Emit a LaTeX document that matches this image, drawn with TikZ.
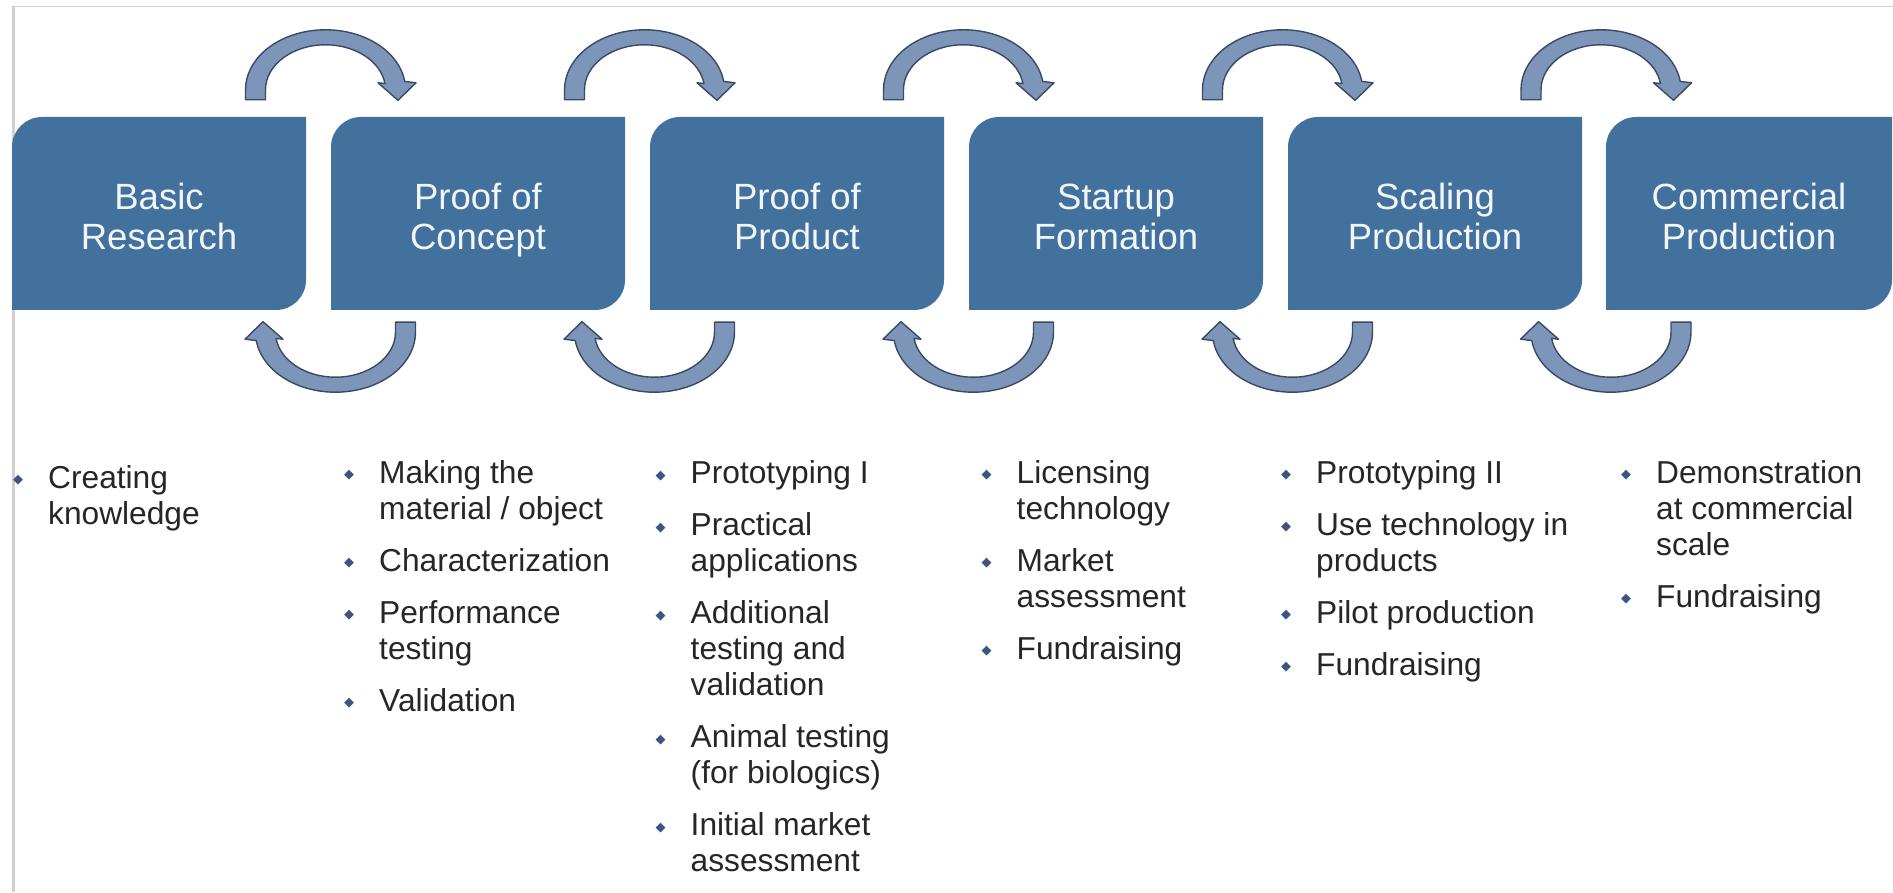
\documentclass[tikz,border=0pt]{standalone}
\usepackage{fontspec}
\setmainfont{Liberation Sans}
\newfontfamily\symbolfont{DejaVu Sans}
\usetikzlibrary{calc}

\definecolor{stagefill}{RGB}{66,113,158}
\definecolor{stagetext}{RGB}{242,245,249}
\definecolor{loopfill}{RGB}{124,149,184}
\definecolor{loopedge}{RGB}{58,74,100}
\definecolor{bodytext}{RGB}{38,38,38}
\definecolor{bulletblue}{RGB}{62,84,130}
\definecolor{framegray}{RGB}{208,208,208}

% diamond bullet hung to the left of each item
\newcommand\itemmark{\llap{\textcolor{bulletblue}{\fontsize{13}{13}\selectfont\raisebox{4.2pt}{\symbolfont ◆}}\hspace{25pt}}}
% fixes the height of the first line of every list
\newcommand\firstline{\rule{0pt}{26pt}}
% fixes the height of the first and the depth of the last line of a stage title
\newcommand\titletop{\rule{0pt}{42pt}}
\newcommand\titlebottom{\rule[-9pt]{0pt}{9pt}}

\begin{document}
\begin{tikzpicture}[x=1pt,y=1pt,
  stage/.style={minimum width=294pt, minimum height=193pt, inner sep=0pt,
    align=center, text=stagetext,
    font=\fontsize{36.5}{40}\selectfont,
    path picture={
      \fill[stagefill] (path picture bounding box.south west)
        -- ([yshift=-30pt]path picture bounding box.north west)
        arc[start angle=180, end angle=90, radius=30pt]
        -- (path picture bounding box.north east)
        -- ([yshift=30pt]path picture bounding box.south east)
        arc[start angle=0, end angle=-90, radius=30pt]
        -- cycle;
    }},
  bulletlist/.style={anchor=north west, inner sep=0pt, align=left,
    text=bodytext, font=\fontsize{31.7}{36}\selectfont},
  loop arrow/.pic={
    \filldraw[fill=loopfill, draw=loopedge, line width=1.4pt, line join=round]
      (-60pt,-10pt) -- (-60pt,0pt)
      arc[start angle=180, end angle=8, x radius=60pt, y radius=45pt]
      -- (52.5pt,7pt) -- (72.5pt,-10.5pt) -- (90.5pt,7pt)
      -- ({80*cos(8)*1pt},{60*sin(8)*1pt})
      arc[start angle=8, end angle=180, x radius=80pt, y radius=60pt]
      -- (-80pt,-10pt) -- cycle;
  }]

\useasboundingbox (0,0) rectangle (1893,892);
\fill[white] (0,0) rectangle (1893,892);

% frame lines
\draw[framegray, line width=1.5pt] (12,885.5) -- (1893,885.5);
\draw[framegray, line width=2.5pt] (13.25,0) -- (13.25,885.5);

% stages
\node[stage] (b1) at (159,678.5) {\titletop Basic\\Research\titlebottom};
\node[stage] (b2) at (478,678.5) {\titletop Proof of\\Concept\titlebottom};
\node[stage] (b3) at (797,678.5) {\titletop Proof of\\Product\titlebottom};
\node[stage] (b4) at (1116,678.5) {\titletop Startup\\Formation\titlebottom};
\node[stage] (b5) at (1435,678.5) {\titletop Scaling\\Production\titlebottom};
\node[stage, minimum width=286pt] (b6) at (1749,678.5) {\titletop Commercial\\Production\titlebottom};

% forward loops above, backward loops below
\foreach \a/\b in {b1/b2,b2/b3,b3/b4,b4/b5,b5/b6}{
  \pic at ([shift={(7,27)}]$(\a.north east)!0.5!(\b.north west)$) {loop arrow};
  \pic[rotate=180] at ([shift={(17,-22)}]$(\a.south east)!0.5!(\b.south west)$) {loop arrow};
}

% activities of each stage
\node[bulletlist] (l1) at (48,430) {\itemmark\firstline Creating\\knowledge};
\node[bulletlist] (l2) at (379,435) {\itemmark\firstline Making the\\material / object\\[16pt]
  \itemmark Characterization\\[16pt]
  \itemmark Performance\\testing\\[16pt]
  \itemmark Validation};
\node[bulletlist] (l3) at (690.5,435) {\itemmark\firstline Prototyping I\\[16pt]
  \itemmark Practical\\applications\\[16pt]
  \itemmark Additional\\testing and\\validation\\[16pt]
  \itemmark Animal testing\\(for biologics)\\[16pt]
  \itemmark Initial market\\assessment};
\node[bulletlist] (l4) at (1016.5,435) {\itemmark\firstline Licensing\\technology\\[16pt]
  \itemmark Market\\assessment\\[16pt]
  \itemmark Fundraising};
\node[bulletlist] (l5) at (1316,435) {\itemmark\firstline Prototyping II\\[16pt]
  \itemmark Use technology in\\products\\[16pt]
  \itemmark Pilot production\\[16pt]
  \itemmark Fundraising};
\node[bulletlist] (l6) at (1656,435) {\itemmark\firstline Demonstration\\at commercial\\scale\\[16pt]
  \itemmark Fundraising};
\end{tikzpicture}
\end{document}
